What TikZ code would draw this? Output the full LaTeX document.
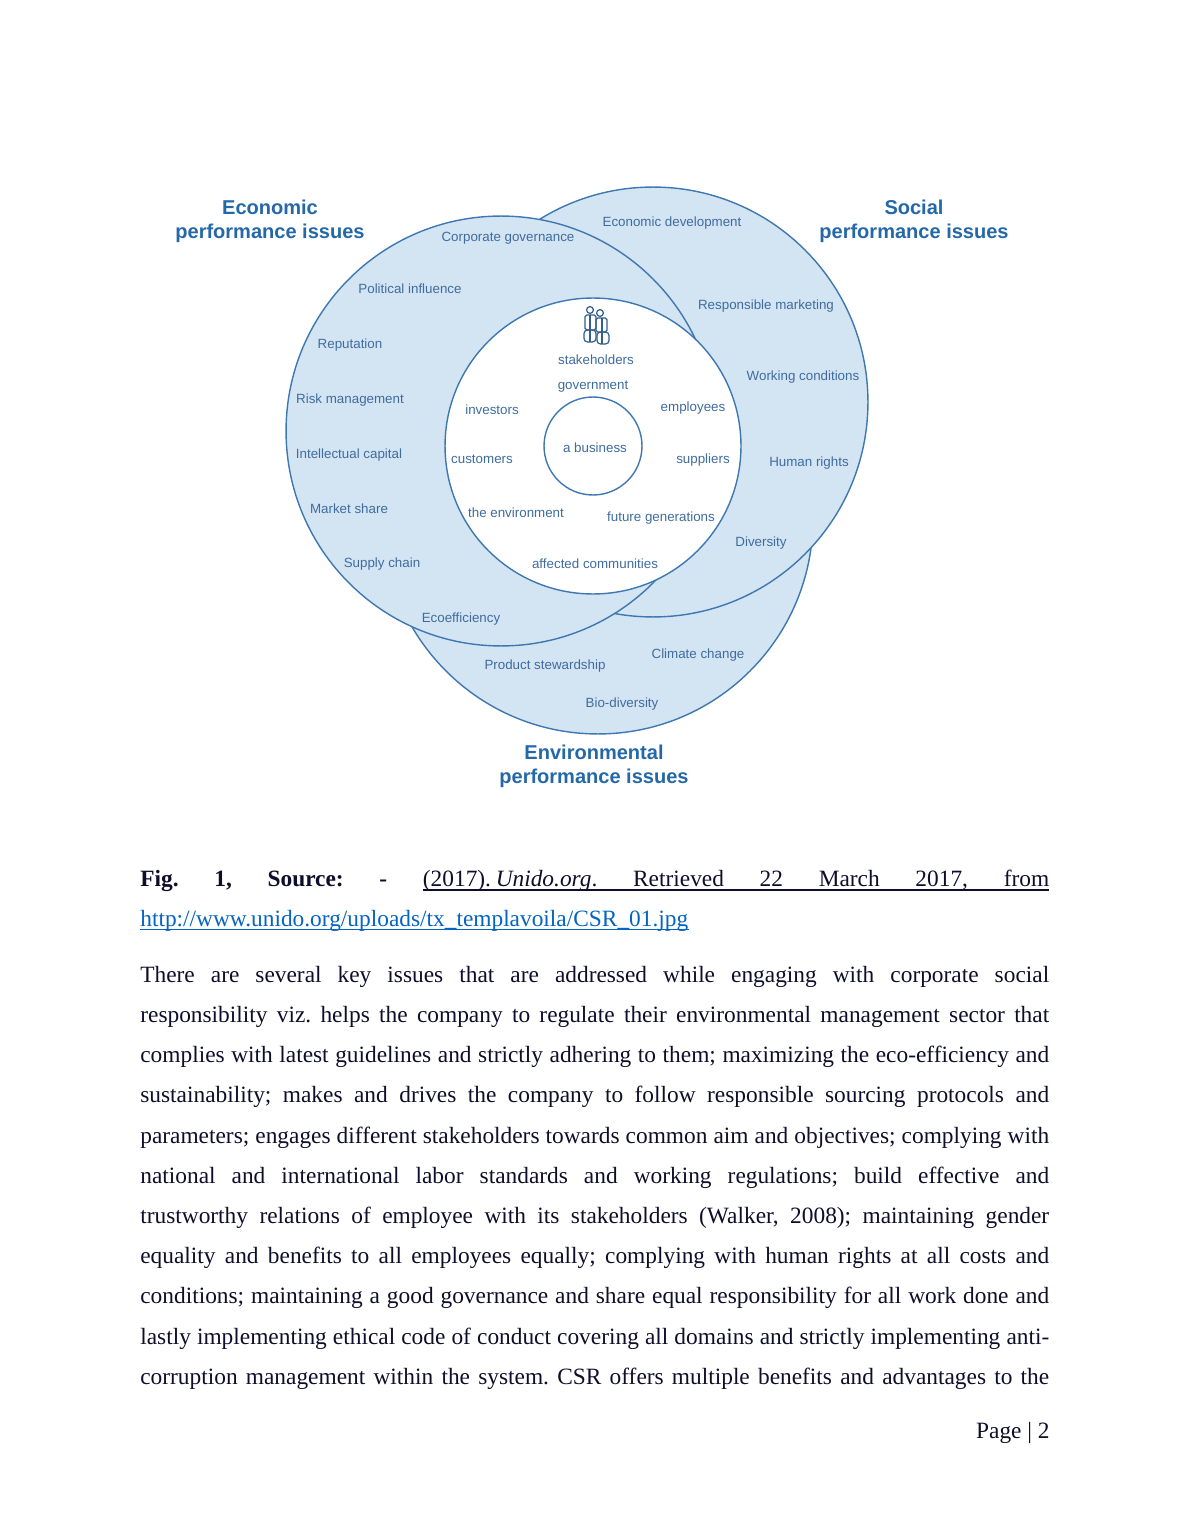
\documentclass[tikz,border=0pt]{standalone}
\usepackage{fontspec}
\setmainfont{Liberation Serif}
\newfontfamily\labelfont{Liberation Sans}
\definecolor{issuefill}{HTML}{D3E4F3}
\definecolor{issueline}{HTML}{3F78B0}
\definecolor{issuetext}{HTML}{3F6C9F}
\definecolor{headtext}{HTML}{2468A8}
\definecolor{bodytext}{HTML}{0E0E2A}
\definecolor{linktext}{HTML}{0563C1}
\tikzset{
  issuecircle/.style={circle,draw=issueline,fill=issuefill,line width=0.8pt,inner sep=0pt},
  whitecircle/.style={issuecircle,fill=white},
  issue/.style={text=issuetext,inner sep=0pt,font=\labelfont\fontsize{7.6}{8}\selectfont},
  heading/.style={text=headtext,inner sep=0pt,align=center,font=\labelfont\bfseries\fontsize{11.4}{13.7}\selectfont},
  bodypar/.style={text=bodytext,inner sep=0pt,anchor=north west,text width=18.18cm,align=justify,font=\fontsize{13.3}{22.87}\selectfont}
}
\newcommand{\tightlines}{\frenchspacing\tolerance=9999\relax\spaceskip=0.25em plus 1em minus 0.14em\relax}
\begin{document}
\begin{tikzpicture}[x=0.02cm,y=-0.02cm]
  \useasboundingbox (0,0) rectangle (1190,1540);

  \begin{scope}[every node/.style={issuecircle,minimum size=8.6cm}]
    \node (environmental) at (598,519) {};
    \node (social)        at (653,402) {};
    \node (economic)      at (501,431) {};
  \end{scope}

  \node[whitecircle,minimum size=5.92cm] (inner) at (593,446) {};
  \node[whitecircle,minimum size=1.96cm] (business) at (593,446) {};

  % headings
  \node[heading] (headeco) at (270,221) {Economic\\performance issues};
  \node[heading] (headsoc) at (914,221) {Social\\performance issues};
  \node[heading] (headenv) at (594,766) {Environmental\\performance issues};

  % outer rings
  \begin{scope}[every node/.style={issue}]
    \node (corporate)  at (508,238) {Corporate governance};
    \node (political)  at (410,289) {Political influence};
    \node (reputation) at (350,345) {Reputation};
    \node (risk)       at (350,400) {Risk management};
    \node (capital)    at (349,455) {Intellectual capital};
    \node (market)     at (349,509) {Market share};
    \node (supply)     at (382,564) {Supply chain};
    \node (eco)        at (461,619) {Ecoefficiency};
    \node (product)    at (545,666) {Product stewardship};
    \node (bio)        at (622,704) {Bio-diversity};
    \node (climate)    at (698,655) {Climate change};
    \node (diversity)  at (761,543) {Diversity};
    \node (human)      at (809,463) {Human rights};
    \node (working)    at (803,377) {Working conditions};
    \node (marketing)  at (766,306) {Responsible marketing};
    \node (develop)    at (672,223) {Economic development};
  \end{scope}

  % inner ring
  \begin{scope}[every node/.style={issue}]
    \node (stakeholders) at (596,360) {stakeholders};
    \node (government)   at (593,387) {government};
    \node (investors)    at (492,410) {investors};
    \node (employees)    at (693,408) {employees};
    \node (customers)    at (482,459) {customers};
    \node (suppliers)    at (703,460) {suppliers};
    \node (environment)  at (516,513) {the environment};
    \node (future)       at (661,518) {future generations};
    \node (affected)     at (595,564) {affected communities};
    \node (abusiness)    at (595,448) {a business};
  \end{scope}

  % people
  \begin{scope}[draw=issueline!80!black,line width=0.7pt]
    \draw (590,310) circle (3.4);
    \draw (600,313) circle (3.4);
    \draw[rounded corners=1pt] (585,315) rectangle (596,330);
    \draw[rounded corners=1pt] (596,318) rectangle (607,332);
    \draw[rounded corners=2pt] (584,330) rectangle (596,342);
    \draw[rounded corners=2pt] (597,332) rectangle (609,344);
    \draw (590,315) -- (590,342);
    \draw (602,318) -- (602,344);
  \end{scope}

  % page text
  \node[bodypar] (source) at (140,870) {\tightlines
    \textbf{Fig. 1, Source: -} (2017).\hspace{0.2em}\textit{Unido.org}. Retrieved 22 March 2017, from\linebreak
    \textcolor{linktext}{http://www.unido.org/uploads/tx\_templavoila/CSR\_01.jpg}\hfill\null};
  \coordinate (ulstart) at (423,890);
  \coordinate (ulend) at (1049,890);
  \coordinate (linkstart) at (140,929.5);
  \coordinate (linkend) at (689,929.5);
  \draw[bodytext,line width=0.6pt] (ulstart) -- (ulend);
  \draw[linktext,line width=0.6pt] (linkstart) -- (linkend);
  \node[bodypar] (para) at (140,965.8) {\tightlines
    There are several key issues that are addressed while engaging with corporate social\linebreak
    responsibility viz. helps the company to regulate their environmental management sector that\linebreak
    complies with latest guidelines and strictly adhering to them; maximizing the eco-efficiency and\linebreak
    sustainability; makes and drives the company to follow responsible sourcing protocols and\linebreak
    parameters; engages different stakeholders towards common aim and objectives; complying with\linebreak
    national and international labor standards and working regulations; build effective and\linebreak
    trustworthy relations of employee with its stakeholders (Walker, 2008); maintaining gender\linebreak
    equality and benefits to all employees equally; complying with human rights at all costs and\linebreak
    conditions; maintaining a good governance and share equal responsibility for all work done and\linebreak
    lastly implementing ethical code of conduct covering all domains and strictly implementing anti-\linebreak
    \makebox[\linewidth][s]{corruption management within the system. CSR offers multiple benefits and advantages to the}};
  \node[text=bodytext,inner sep=0pt,anchor=east,font=\fontsize{13.3}{16}\selectfont] (page) at (1050,1433) {Page | 2};

\end{tikzpicture}
\end{document}
